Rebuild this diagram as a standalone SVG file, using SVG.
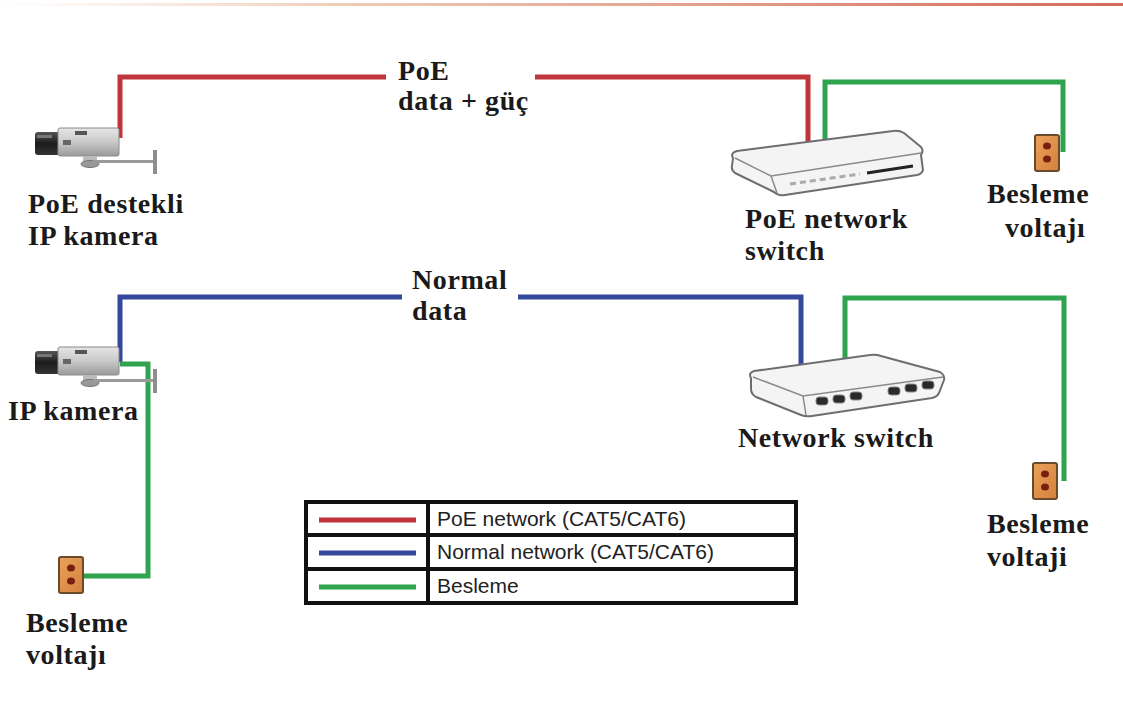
<svg xmlns="http://www.w3.org/2000/svg" width="1123" height="711" viewBox="0 0 1123 711">
  <defs>
    <linearGradient id="topRule" x1="0" y1="0" x2="1" y2="0">
      <stop offset="0" stop-color="#f6d9c9" stop-opacity="0"/>
      <stop offset="0.3" stop-color="#efcdb8"/>
      <stop offset="1" stop-color="#d36b59"/>
    </linearGradient>
    <linearGradient id="bodyGrad" x1="0" y1="0" x2="0" y2="1">
      <stop offset="0" stop-color="#e6e6e6"/>
      <stop offset="0.5" stop-color="#c9c9c9"/>
      <stop offset="1" stop-color="#9a9a9a"/>
    </linearGradient>
    <linearGradient id="lensGrad" x1="0" y1="0" x2="0" y2="1">
      <stop offset="0" stop-color="#555"/>
      <stop offset="0.5" stop-color="#1c1c1c"/>
      <stop offset="1" stop-color="#333"/>
    </linearGradient>
    <linearGradient id="outletGrad" x1="0" y1="0" x2="1" y2="1">
      <stop offset="0" stop-color="#e9a35c"/>
      <stop offset="1" stop-color="#d4803c"/>
    </linearGradient>
    <!-- camera symbol, origin at body top-left -->
    <g id="camera">
      <rect x="0" y="4" width="25" height="23" rx="3" fill="url(#lensGrad)"/>
      <rect x="2" y="7" width="15" height="3" fill="#777"/>
      <rect x="23" y="0" width="61" height="28" rx="2" fill="url(#bodyGrad)" stroke="#8a8a8a" stroke-width="1"/>
      <rect x="40" y="3" width="12" height="4" fill="#555"/>
      <rect x="28" y="12" width="8" height="5" fill="#666"/>
      <rect x="48" y="28" width="14" height="6" fill="#bbb"/>
      <ellipse cx="55" cy="36" rx="9" ry="3.5" fill="#999" stroke="#777"/>
      <rect x="58" y="32" width="62" height="3" fill="#9a9a9a"/>
      <rect x="118" y="22" width="4" height="24" fill="#8e8e8e"/>
    </g>
    <g id="outlet">
      <rect x="0" y="0" width="24" height="36" rx="2" fill="url(#outletGrad)" stroke="#6b4a2a" stroke-width="2"/>
      <ellipse cx="12" cy="11" rx="4" ry="3.5" fill="#7a1e12"/>
      <ellipse cx="12" cy="24" rx="4" ry="3.5" fill="#7a1e12"/>
    </g>
  </defs>
  <style>
    .wire { fill: none; stroke-width: 5; stroke-linejoin: miter; }
    .poe { stroke: #c0353a; }
    .data { stroke: #34489e; }
    .pwr { stroke: #2fa34e; }
    .lbl { font-family: "Liberation Serif", "DejaVu Serif", serif; font-weight: bold; font-size: 28px; letter-spacing: 0.6px; fill: #1a1a1a; }
    .leg { font-family: "Liberation Sans", Arial, sans-serif; font-size: 21px; fill: #222; }
    .shell { fill: #f4f4f4; stroke: #6e6e6e; stroke-width: 2; stroke-linejoin: round; }
  </style>

  <rect width="1123" height="711" fill="#ffffff"/>
  <rect x="0" y="3" width="1123" height="3" fill="url(#topRule)"/>

  <!-- connectors -->
  <g id="connectors">
    <path class="wire poe" d="M120,138 V77 H386 M535,77 H808 V146"/>
    <path class="wire pwr" d="M825,140 V82 H1063 V152"/>
    <path class="wire data" d="M120,362 V297 H402 M518,297 H801 V374"/>
    <path class="wire pwr" d="M120,364 H148 V576 H82"/>
    <path class="wire pwr" d="M845,364 V298 H1064 V481"/>
  </g>

  <!-- PoE camera -->
  <g id="poe-camera">
    <use href="#camera" x="35" y="128"/>
    <text class="lbl" x="28" y="213">PoE destekli</text>
    <text class="lbl" x="28" y="245">IP kamera</text>
  </g>

  <!-- PoE switch -->
  <g id="poe-switch">
    <path class="shell" d="M733,158 Q730,153 737,151 L893,131 Q899,130 904,133 L921,147 Q924,151 921,155 L923,170 Q922,174 917,175 L785,195 Q778,196 774,192 L735,173 Q731,170 732,166 Z"/>
    <path d="M735,158 L771,176 L921,153" fill="none" stroke="#8a8a8a" stroke-width="1.5"/>
    <path d="M771,176 L777,193" fill="none" stroke="#8a8a8a" stroke-width="1.5"/>
    <path d="M790,184 L860,174" stroke="#aaa" stroke-width="3" stroke-dasharray="6 4"/>
    <path d="M867,173 L913,166" stroke="#222" stroke-width="3"/>
    <text class="lbl" x="745" y="228">PoE network</text>
    <text class="lbl" x="745" y="260">switch</text>
  </g>

  <!-- supply, top -->
  <g id="supply-top">
    <use href="#outlet" x="1035" y="135"/>
    <text class="lbl" x="987" y="203">Besleme</text>
    <text class="lbl" x="1005" y="237">voltajı</text>
  </g>

  <!-- IP camera -->
  <g id="ip-camera">
    <use href="#camera" x="35" y="347"/>
    <text class="lbl" x="8" y="420">IP kamera</text>
  </g>

  <!-- network switch -->
  <g id="network-switch">
    <path class="shell" d="M751,378 Q748,373 754,371 L870,355 Q876,354 881,356 L940,372 Q945,375 944,380 L939,393 Q937,397 932,398 L812,416 Q806,417 801,415 L756,397 Q751,394 751,389 Z"/>
    <path d="M753,377 L803,396 L943,377" fill="none" stroke="#8a8a8a" stroke-width="1.5"/>
    <path d="M803,396 L806,415" fill="none" stroke="#8a8a8a" stroke-width="1.5"/>
    <g fill="#2a2a2a" stroke="#888" stroke-width="1">
      <rect x="816" y="397" width="12" height="8" rx="3"/>
      <rect x="833" y="395" width="12" height="8" rx="3"/>
      <rect x="850" y="392" width="12" height="8" rx="3"/>
      <rect x="888" y="387" width="12" height="8" rx="3"/>
      <rect x="905" y="384" width="12" height="8" rx="3"/>
      <rect x="922" y="381" width="12" height="8" rx="3"/>
    </g>
    <text class="lbl" x="738" y="447">Network switch</text>
  </g>

  <!-- supply, camera -->
  <g id="supply-camera">
    <use href="#outlet" x="59" y="557"/>
    <text class="lbl" x="26" y="632">Besleme</text>
    <text class="lbl" x="26" y="664">voltajı</text>
  </g>

  <!-- supply, switch -->
  <g id="supply-switch">
    <use href="#outlet" x="1033" y="463"/>
    <text class="lbl" x="987" y="533">Besleme</text>
    <text class="lbl" x="987" y="566">voltaji</text>
  </g>

  <!-- legend -->
  <g id="legend">
    <rect x="306" y="502" width="490" height="101" fill="#ffffff" stroke="#111" stroke-width="4"/>
    <path d="M306,535 H796 M306,569 H796 M428,502 V603" stroke="#111" stroke-width="4"/>
    <path class="wire poe" d="M319,520 H416"/>
    <path class="wire data" d="M319,553 H416"/>
    <path class="wire pwr" d="M319,587 H416"/>
    <text class="leg" x="437" y="526">PoE network (CAT5/CAT6)</text>
    <text class="leg" x="437" y="559">Normal network (CAT5/CAT6)</text>
    <text class="leg" x="437" y="593">Besleme</text>
  </g>

  <!-- wire captions -->
  <g id="captions">
    <text class="lbl" x="398" y="80">PoE</text>
    <text class="lbl" x="398" y="110">data + güç</text>
    <text class="lbl" x="412" y="289">Normal</text>
    <text class="lbl" x="412" y="320">data</text>
  </g>
</svg>
